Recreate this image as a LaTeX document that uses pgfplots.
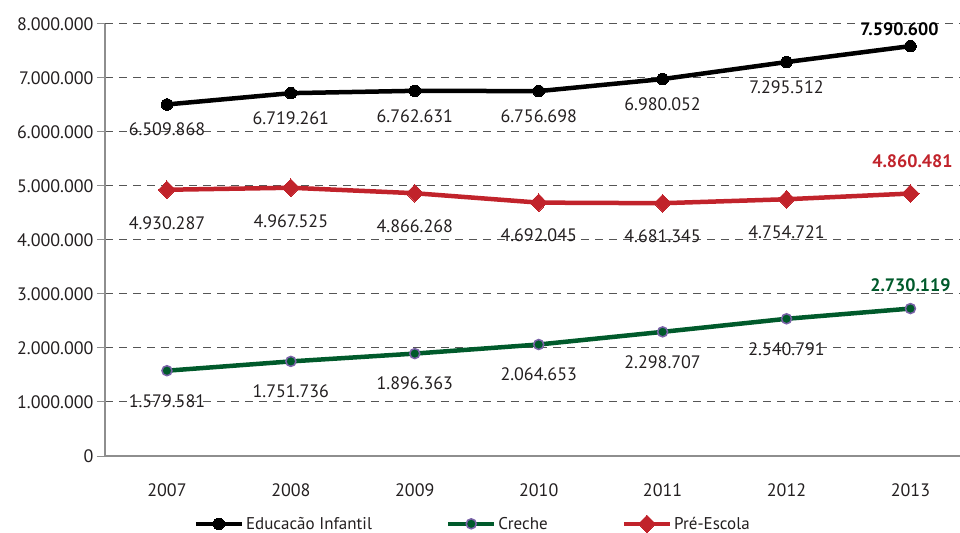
\documentclass[border=0pt]{standalone}
\usepackage{pgfplots}
\pgfplotsset{compat=1.18}
\usepackage{fontspec}
\setmainfont{PT Sans}

\definecolor{cred}{HTML}{C1232B}
\definecolor{cgreen}{HTML}{005A2B}
\definecolor{cpurple}{HTML}{7A62A8}
\definecolor{spine}{HTML}{8E8E8E}
\definecolor{gridc}{HTML}{555555}
\definecolor{txt}{HTML}{231F20}

\newcommand\fs{\fontsize{18bp}{21bp}\selectfont}
\newcommand\bfs{\fontsize{18bp}{21bp}\selectfont\bfseries}
\newcommand\lfs{\fontsize{17bp}{20bp}\selectfont}

\begin{document}
\begin{tikzpicture}
\useasboundingbox (0,0) rectangle (960bp,533bp);
\begin{axis}[
    at={(105bp,77bp)}, anchor=south west,
    scale only axis, width=855bp, height=432bp,
    xmin=-0.5, xmax=6.4, ymin=0, ymax=8000000,
    clip=false,
    axis x line*=bottom, axis y line*=left,
    axis line style={spine, line width=1.5bp},
    xtick={0,1,2,3,4,5,6},
    xticklabels={2007,2008,2009,2010,2011,2012,2013},
    x tick style={draw=none},
    ytick={0,1000000,2000000,3000000,4000000,5000000,6000000,7000000,8000000},
    yticklabels={0,1.000.000,2.000.000,3.000.000,4.000.000,5.000.000,6.000.000,7.000.000,8.000.000},
    y tick style={spine, line width=1bp},
    tick align=outside, major tick length=8bp,
    scaled y ticks=false,
    /pgf/number format/assume math mode=true,
    yticklabel style={font=\fs, text=txt},
    xticklabel style={font=\fs, text=txt, yshift=-16bp},
    ymajorgrids,
    grid style={gridc, dash pattern=on 8bp off 6bp, line width=1bp},
    point meta=explicit symbolic,
    nodes near coords,
    legend style={at={(0.43,-0.157)}, anchor=center, draw=none, fill=none,
        font=\lfs, text=txt,
        /tikz/every even column/.append style={column sep=72bp}},
    legend columns=3,
    legend image code/.code={\draw[mark repeat=2, mark phase=2]
        plot coordinates {(0bp,0bp) (23bp,0bp) (46bp,0bp)};},
]
\addplot[black, line width=4.5bp, mark=*, mark size=5.8bp,
    mark options={solid, fill=black, line width=0bp},
    nodes near coords style={anchor=center, yshift=-25bp},
    coordinate style/.condition={x<5.5}{font=\fs, text=txt},
    coordinate style/.condition={x>5.5}{font=\bfs, text=black, xshift=-11bp, yshift=42bp}]
coordinates {
    (0,6509868) [6.509.868]
    (1,6719261) [6.719.261]
    (2,6762631) [6.762.631]
    (3,6756698) [6.756.698]
    (4,6980052) [6.980.052]
    (5,7295512) [7.295.512]
    (6,7590600) [7.590.600]
};
\addlegendentry{Educacão Infantil}

\addplot[cgreen, line width=4.5bp, mark=*, mark size=5bp,
    mark options={solid, fill=cgreen, draw=cpurple, line width=1.5bp},
    nodes near coords style={anchor=center, yshift=-30bp},
    coordinate style/.condition={x<5.5}{font=\fs, text=txt},
    coordinate style/.condition={x>5.5}{font=\bfs, text=cgreen, yshift=53bp}]
coordinates {
    (0,1579581) [1.579.581]
    (1,1751736) [1.751.736]
    (2,1896363) [1.896.363]
    (3,2064653) [2.064.653]
    (4,2298707) [2.298.707]
    (5,2540791) [2.540.791]
    (6,2730119) [2.730.119]
};
\addlegendentry{Creche}

\addplot[cred, line width=4.5bp, mark=diamond*, mark size=8.8bp,
    mark options={solid, fill=cred, line width=0bp, xscale=1.3},
    nodes near coords style={anchor=center, yshift=-33bp},
    coordinate style/.condition={x<5.5}{font=\fs, text=txt},
    coordinate style/.condition={x>5.5}{font=\bfs, text=cred, xshift=2bp, yshift=65bp}]
coordinates {
    (0,4930287) [4.930.287]
    (1,4967525) [4.967.525]
    (2,4866268) [4.866.268]
    (3,4692045) [4.692.045]
    (4,4681345) [4.681.345]
    (5,4754721) [4.754.721]
    (6,4860481) [4.860.481]
};
\addlegendentry{Pré-Escola}
\end{axis}
\end{tikzpicture}
\end{document}
